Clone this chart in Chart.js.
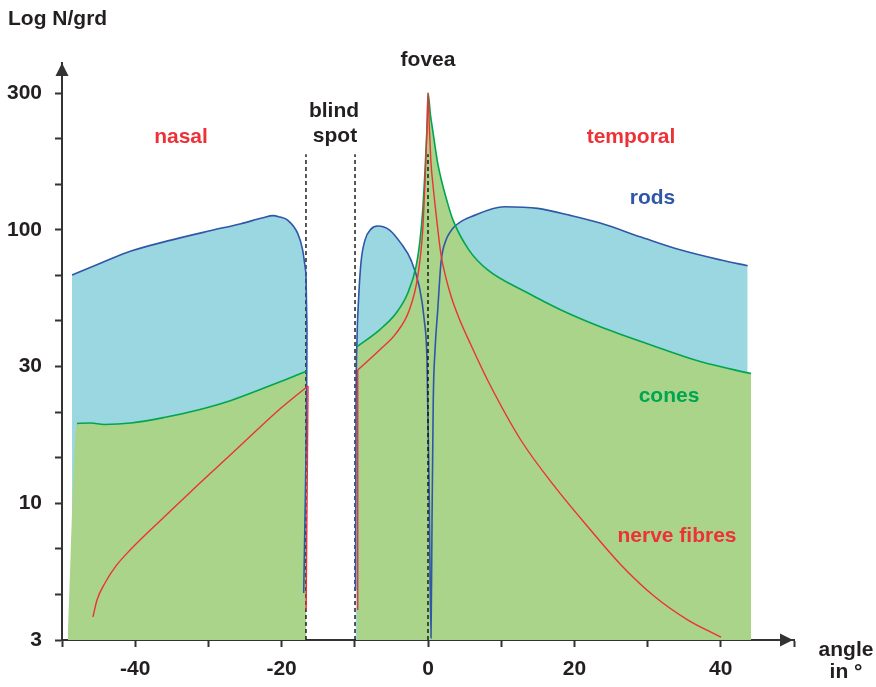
<!DOCTYPE html>
<html>
<head>
<meta charset="utf-8">
<script src="https://cdn.jsdelivr.net/npm/chart.js@4.4.1/dist/chart.umd.min.js"></script>
<style>
  body { margin: 0; background: #fff; }
  canvas { display: block; }
</style>
</head>
<body>
<canvas id="grafico" width="876" height="687"></canvas>
<script>
// Ángulo desde la fóvea (grados) y densidad N/grd, un par de listas por tramo
const bastonesNasalX = [-48.63, -44.67, -40.57, -35.11, -29.64, -25.55, -22.54, -21.17, -20.22, -19.17, -17.80, -17.12, -16.67];
const bastonesNasalN = [68.3, 75.6, 83.6, 91.7, 99.4, 105.3, 110.7, 112.7, 111.3, 108.5, 97.0, 84.3, 69.3];
// caída de los bastones en el borde de la mancha ciega
const bastonesCaidaX = [-16.67, -16.53, -16.60, -16.76, -16.98];
const bastonesCaidaN = [69.3, 43, 20.2, 10.3, 4.7];

const bastonesTempX = [-9.90, -9.84, -9.70, -9.49, -9.15, -8.61, -7.79, -6.87, -5.29, -3.69, -2.32, -1.19, -0.51, -0.14, 0.14, 0.41,
    0.55, 0.72, 0.96, 1.33, 1.78, 2.46, 3.00, 3.59, 4.60, 5.87, 10.42, 14.99, 19.54, 23.63, 29.10, 34.56, 40.03, 43.67];
const bastonesTempN = [4.82, 20.2, 39.5, 55.4, 76.2, 91.7, 100.6, 103.2, 100, 89.2, 77.5, 61.9, 46.8, 33.4, 12.2, 3.22,
    8.69, 23.9, 36.3, 50.9, 76.2, 91.7, 97.8, 102.6, 107.6, 111.6, 121.4, 119.8, 112.7, 105.6, 94.1, 84.3, 77.5, 73.9];

const conosNasalX = [-49.2, -47.95, -46.04, -44.26, -40.57, -36.07, -31.42, -26.91, -22.40, -19.40, -16.63];
const conosNasalN = [3.16, 19.57, 19.65, 19.41, 19.65, 20.58, 21.93, 23.76, 26.38, 28.35, 30.37];

const conosTempX = [-9.70, -6.65, -4.37, -2.77, -1.64, -1.09, -0.72, -0.34, -0.10, 0, 0.34, 0.64, 1.33, 2.69, 3.42, 5.60,
    8.16, 13.39, 18.17, 23.63, 30.46, 37.30, 44.13];
const conosTempN = [37.4, 43.0, 49.5, 58.6, 73.3, 91.7, 118.1, 179.9, 251.9, 316, 262.8, 231.6, 175, 124.9, 108.5, 84.3,
    71.3, 59.2, 50.9, 44.1, 37.9, 32.9, 29.8];

const fibrasNasalX = [-45.77, -45.22, -44.13, -42.62, -40.57, -36.48, -31.01, -25.55, -20.08, -16.39];
const fibrasNasalN = [3.84, 4.43, 5.11, 5.90, 6.80, 8.69, 11.96, 16.33, 22.29, 26.84];
const fibrasCaidaX = [-16.39, -16.65];
const fibrasCaidaN = [26.84, 4.07];

const fibrasSubidaX = [-9.6, -9.6];
const fibrasSubidaN = [4.07, 30.7];
const fibrasTempX = [-9.60, -6.65, -4.37, -2.55, -1.41, -0.72, -0.34, -0.10, 0, 0.20, 0.41, 0.68, 1.09, 1.78, 2.46, 3.14,
    4.23, 5.87, 8.20, 12.70, 17.21, 21.86, 26.37, 30.87, 35.52, 40.03];
const fibrasTempN = [30.7, 36.3, 41.8, 50.9, 67.3, 100, 165.8, 251.9, 316, 231.6, 175.4, 145.8, 115.1, 80.9, 66.6, 57.3,
    47.6, 37.9, 28.0, 17.0, 11.6, 8.19, 5.95, 4.58, 3.74, 3.24];

// bordes de la mancha ciega y la fóvea (líneas punteadas)
const manchaCiegaX = [-16.67, -9.97];
const foveaX = [0];
const alturaPunteada = 189;

// eje y: escala logarítmica con marcas cada 1/6 de década
const yMin = Math.pow(10, 0.5);
const yMax = Math.pow(10, 2.61);
const yTickLabels = ['3', '10', '30', '100', '300'];
const xTickLabels = [-40, -20, 0, 20, 40];

const ROJO = '#ec3237', AZUL = '#2f57a7', VERDE = '#00a551', NEGRO = '#231f20', EJE = '#333333';
const RELLENO_AZUL = '#9bd7e0', RELLENO_VERDE = '#a9d48a';
const FUENTE = '"Liberation Sans", Arial, sans-serif';

const textos = [
    { t: 'Log N/grd', x: 8, y: 25, c: NEGRO, a: 'left' },
    { t: 'nasal', x: 181, y: 142.5, c: ROJO },
    { t: 'blind', x: 334, y: 116.5, c: NEGRO },
    { t: 'spot', x: 335, y: 142, c: NEGRO },
    { t: 'fovea', x: 428, y: 65.5, c: NEGRO },
    { t: 'temporal', x: 631, y: 142.5, c: ROJO },
    { t: 'rods', x: 652.5, y: 204, c: AZUL },
    { t: 'cones', x: 669, y: 401.5, c: VERDE },
    { t: 'nerve fibres', x: 677, y: 541.5, c: ROJO },
    { t: 'angle', x: 846, y: 656, c: NEGRO },
    { t: 'in °', x: 846, y: 678, c: NEGRO }
];

function puntos(xs, ys) {
    return xs.map((x, i) => ({ x: x, y: ys[i] }));
}

// ocultos: índices de los tramos que solo cierran el relleno (sin trazo)
function curva(xs, ys, color, relleno, ocultos) {
    return {
        data: puntos(xs, ys),
        borderColor: color,
        borderWidth: color === ROJO ? 1.4 : 1.6,
        pointRadius: 0,
        cubicInterpolationMode: 'monotone',
        fill: relleno ? 'start' : false,
        backgroundColor: relleno || 'transparent',
        segment: {
            borderColor: ctx => (ocultos && ocultos.includes(ctx.p0DataIndex) ? 'rgba(0,0,0,0)' : undefined)
        }
    };
}

// tramos casi verticales: trazo recto, sin relleno
function recta(xs, ys, color) {
    return {
        data: puntos(xs, ys),
        borderColor: color,
        borderWidth: color === ROJO ? 1.4 : 1.6,
        pointRadius: 0,
        tension: 0,
        fill: false
    };
}

function punteada(x) {
    return {
        data: [{ x: x, y: yMin }, { x: x, y: alturaPunteada }],
        borderColor: '#111',
        borderWidth: 1.4,
        borderDash: [4, 3],
        pointRadius: 0,
        fill: false
    };
}

const extras = {
    id: 'extras',
    afterDraw(chart) {
        const ctx = chart.ctx;
        const a = chart.chartArea;
        ctx.save();
        ctx.fillStyle = EJE;
        // flechas de los ejes
        ctx.beginPath();
        ctx.moveTo(a.left, a.top);
        ctx.lineTo(a.left - 6.5, a.top + 13);
        ctx.lineTo(a.left + 6.5, a.top + 13);
        ctx.closePath();
        ctx.fill();
        ctx.beginPath();
        ctx.moveTo(a.right - 1, a.bottom);
        ctx.lineTo(a.right - 14, a.bottom - 6.5);
        ctx.lineTo(a.right - 14, a.bottom + 6.5);
        ctx.closePath();
        ctx.fill();

        ctx.font = 'bold 21px ' + FUENTE;
        ctx.textBaseline = 'alphabetic';
        textos.forEach(tx => {
            ctx.fillStyle = tx.c;
            ctx.textAlign = tx.a || 'center';
            ctx.fillText(tx.t, tx.x, tx.y);
        });
        ctx.restore();
    }
};

// el primer conjunto se dibuja encima; los rellenos van todos antes de las líneas
const datasets = [
    punteada(foveaX[0]),
    curva(fibrasNasalX, fibrasNasalN, ROJO, null, null),
    recta(fibrasCaidaX, fibrasCaidaN, ROJO),
    recta(fibrasSubidaX, fibrasSubidaN, ROJO),
    curva(fibrasTempX, fibrasTempN, ROJO, null, null),
    curva(conosNasalX, conosNasalN, VERDE, RELLENO_VERDE, [0]),
    curva(conosTempX, conosTempN, VERDE, RELLENO_VERDE, null),
    recta(bastonesCaidaX, bastonesCaidaN, AZUL),
    curva(bastonesNasalX, bastonesNasalN, AZUL, RELLENO_AZUL, null),
    curva(bastonesTempX, bastonesTempN, AZUL, RELLENO_AZUL, null)
];
manchaCiegaX.forEach(x => datasets.push(punteada(x)));

const fuenteTicks = { family: FUENTE, size: 21, weight: 'bold' };

new Chart(document.getElementById('grafico'), {
    type: 'line',
    data: { datasets: datasets },
    plugins: [extras],
    options: {
        responsive: false,
        animation: false,
        events: [],
        devicePixelRatio: 1,
        layout: { padding: { top: 63, right: 82, left: 0, bottom: 0 } },
        plugins: {
            legend: { display: false },
            tooltip: { enabled: false },
            filler: { drawTime: 'beforeDatasetsDraw' }
        },
        scales: {
            x: {
                type: 'linear',
                min: -50,
                max: 50,
                afterFit: s => { s.height = 47; },
                ticks: {
                    stepSize: 10,
                    autoSkip: false,
                    maxRotation: 0,
                    padding: 10,
                    color: NEGRO,
                    font: fuenteTicks,
                    callback: v => (xTickLabels.includes(v) ? String(v) : '')
                },
                grid: { drawOnChartArea: false, tickLength: 7, tickWidth: 2, tickColor: EJE },
                border: { display: true, color: EJE, width: 2 }
            },
            y: {
                type: 'logarithmic',
                min: yMin,
                max: yMax,
                bounds: 'data',
                afterFit: s => { s.width = 62; },
                afterBuildTicks: s => {
                    const t = [];
                    for (let k = 0; k <= 12; k++) t.push({ value: Math.pow(10, 0.5 + k / 6) });
                    s.ticks = t;
                },
                ticks: {
                    autoSkip: false,
                    padding: 13,
                    color: NEGRO,
                    font: fuenteTicks,
                    callback: (v, i) => (i % 3 === 0 ? yTickLabels[i / 3] : '')
                },
                grid: { drawOnChartArea: false, tickLength: 7, tickWidth: 2, tickColor: EJE },
                border: { display: true, color: EJE, width: 2 }
            }
        }
    }
});
</script>
</body>
</html>
